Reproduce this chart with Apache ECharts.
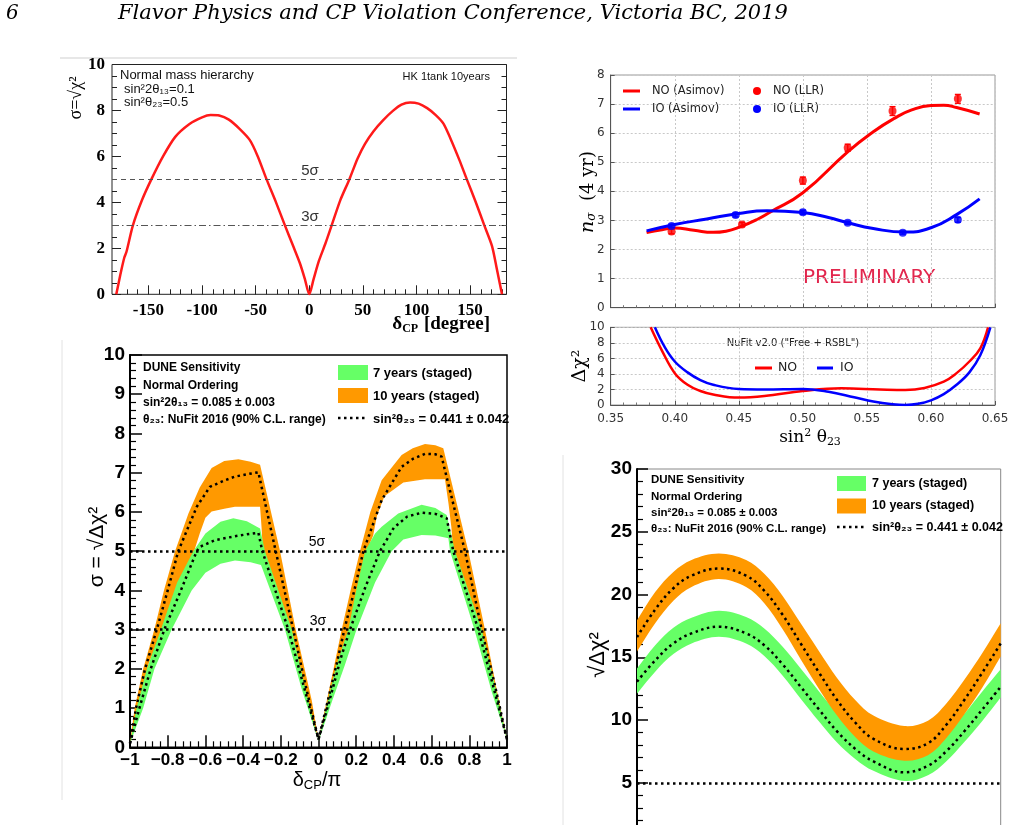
<!DOCTYPE html>
<html>
<head>
<meta charset="utf-8">
<title>CP violation and mass ordering sensitivity</title>
<script src="https://cdn.jsdelivr.net/npm/echarts@6/dist/echarts.min.js"></script>
<style>body{margin:0;background:#fff;}</style>
</head>
<body>
<div id="main" style="width:1014px;height:825px;"></div>
<script>
// ---- HK 1 tank 10 years (top left) ----
var hkDelta = [-180,-176,-172.5,-170.5,-164.5,-156,-147.3,-136.4,-125,-112,-100,-92,-84,-75,-65,-55.4,-48,-39.8,-31,-22.7,-15,-8.7,-4,0,4,9,15,20.9,29,37.4,45,52,60,69,78,86,94,102,110,118,125.2,132,140,147,155,163.3,170.5,175,179.8];
var hkSigma = [0,0.9,1.6,1.85,3.0,4.1,5.0,6.0,6.85,7.4,7.7,7.8,7.78,7.6,7.2,6.71,6.0,5.0,4.0,3.0,2.1,1.35,0.65,0,0.65,1.45,2.2,3.0,4.1,5.0,5.9,6.55,7.1,7.58,7.98,8.25,8.35,8.3,8.1,7.8,7.43,6.75,5.85,5.0,4.05,3.0,2.1,1.1,0];
var hkMajor = [-150,-100,-50,0,50,100,150];

// ---- n_sigma vs sin^2 theta23 (top right) ----
var noAsimov = [[0.378,2.58],[0.39,2.68],[0.40,2.74],[0.415,2.66],[0.43,2.59],[0.44,2.63],[0.45,2.76],[0.465,3.05],[0.475,3.3],[0.50,3.95],[0.535,5.36],[0.555,6.05],[0.571,6.5],[0.585,6.8],[0.60,6.95],[0.61,6.96],[0.62,6.88],[0.638,6.66]];
var ioAsimov = [[0.378,2.64],[0.40,2.86],[0.425,3.05],[0.45,3.24],[0.472,3.33],[0.50,3.27],[0.52,3.1],[0.535,2.92],[0.555,2.72],[0.58,2.6],[0.60,2.75],[0.62,3.2],[0.638,3.74]];
var noLlr = [[0.3975,2.62],[0.4525,2.86],[0.50,4.37],[0.535,5.5],[0.57,6.76],[0.621,7.18]];
var noLlrErr = [0.08,0.07,0.12,0.12,0.15,0.15];
var ioLlr = [[0.3975,2.81],[0.4475,3.19],[0.50,3.28],[0.535,2.92],[0.578,2.58],[0.621,3.02]];
var ioLlrErr = [0.06,0.07,0.07,0.05,0.05,0.08];

// ---- NuFit delta chi^2 (middle right) ----
var nufitNO = [[0.3812,10],[0.39,7.0],[0.40,4.1],[0.41,2.6],[0.42,1.8],[0.43,1.35],[0.45,0.95],[0.47,1.15],[0.50,1.8],[0.53,2.15],[0.56,2.0],[0.58,1.93],[0.595,2.2],[0.61,3.0],[0.62,4.1],[0.63,5.6],[0.6385,7.3],[0.6446,10]];
var nufitIO = [[0.3845,10],[0.392,7.5],[0.40,5.6],[0.41,4.2],[0.42,3.2],[0.43,2.6],[0.45,2.06],[0.47,2.0],[0.50,2.06],[0.52,1.7],[0.54,1.0],[0.555,0.45],[0.57,0.1],[0.58,0.0],[0.59,0.15],[0.60,0.6],[0.61,1.4],[0.62,2.6],[0.63,4.2],[0.6385,6.4],[0.6464,10]];

// ---- DUNE CPV sensitivity (bottom left) ----
var tenOuter = [[-1,0.1],[-0.975,1.0],[-0.93,2.0],[-0.871,3.0],[-0.82,4.0],[-0.761,5.0],[-0.69,5.96],[-0.63,6.62],[-0.567,7.12],[-0.5,7.3],[-0.425,7.34],[-0.36,7.28],[-0.31,7.2],[-0.255,6.06],[-0.204,5.0],[-0.121,3.0],[-0.036,1.2],[0,0.2],
  [0.04,1.1],[0.08,2.0],[0.123,3.0],[0.17,4.0],[0.22,5.0],[0.275,6.0],[0.335,6.81],[0.441,7.45],[0.5,7.62],[0.565,7.73],[0.62,7.7],[0.662,7.62],[0.725,6.38],[0.795,5.0],[0.883,3.0],[0.94,1.6],[1,0.2]];
var tenInner = [[-1,0.1],[-0.95,1.1],[-0.9,2.15],[-0.826,3.0],[-0.74,4.2],[-0.66,5.0],[-0.63,5.45],[-0.6,5.85],[-0.567,6.01],[-0.5,6.08],[-0.443,6.13],[-0.31,6.13],[-0.302,5.6],[-0.295,5.0],[-0.16,3.0],[-0.07,1.4],[0,0.2],
  [0.055,1.2],[0.105,2.1],[0.163,3.0],[0.21,4.0],[0.255,5.0],[0.29,5.4],[0.31,5.9],[0.35,6.4],[0.45,6.75],[0.565,6.83],[0.671,6.83],[0.69,6.2],[0.705,5.6],[0.715,5.0],[0.845,3.0],[0.93,1.5],[1,0.2]];
var sevenOuter = [[-1,0.1],[-0.965,1.0],[-0.91,2.0],[-0.836,3.0],[-0.75,4.2],[-0.664,5.0],[-0.6,5.45],[-0.52,5.75],[-0.452,5.84],[-0.38,5.76],[-0.31,5.58],[-0.284,5.0],[-0.142,3.0],[-0.06,1.3],[0,0.15],
  [0.04,1.0],[0.095,2.1],[0.158,3.0],[0.2,4.0],[0.247,5.0],[0.3,5.45],[0.335,5.62],[0.423,5.96],[0.547,6.18],[0.62,6.1],[0.68,5.92],[0.724,5.0],[0.866,3.0],[0.94,1.5],[1,0.2]];
var sevenInner = [[-1,0.1],[-0.93,1.0],[-0.87,2.0],[-0.779,3.0],[-0.673,4.0],[-0.6,4.45],[-0.52,4.68],[-0.443,4.76],[-0.36,4.72],[-0.305,4.65],[-0.178,3.0],[-0.09,1.5],[0,0.15],
  [0.07,1.15],[0.14,2.1],[0.202,3.0],[0.3,4.2],[0.388,5.0],[0.45,5.3],[0.547,5.41],[0.62,5.4],[0.689,5.33],[0.698,5.0],[0.827,3.0],[0.92,1.4],[1,0.2]];
var tenMid = [[-1,0.1],[-0.968,1.0],[-0.92,2.0],[-0.858,3.0],[-0.80,4.0],[-0.744,5.0],[-0.646,6.13],[-0.576,6.64],[-0.5,6.8],[-0.443,6.9],[-0.38,6.96],[-0.319,7.01],[-0.227,5.0],[-0.134,3.0],[-0.065,1.5],[0,0.2],
  [0.06,1.4],[0.1,2.2],[0.137,3.0],[0.19,4.0],[0.238,5.0],[0.335,6.3],[0.441,7.15],[0.5,7.35],[0.565,7.48],[0.62,7.47],[0.653,7.41],[0.777,5.0],[0.866,3.0],[0.935,1.6],[1,0.2]];
var sevenMid = [[-1,0.1],[-0.95,1.0],[-0.89,2.0],[-0.818,3.0],[-0.73,4.0],[-0.646,5.0],[-0.629,5.11],[-0.55,5.28],[-0.443,5.38],[-0.38,5.43],[-0.319,5.47],[-0.298,5.0],[-0.16,3.0],[-0.075,1.5],[0,0.2],
  [0.07,1.4],[0.12,2.3],[0.167,3.0],[0.25,4.1],[0.326,5.0],[0.4,5.6],[0.47,5.88],[0.547,5.98],[0.62,5.95],[0.68,5.84],[0.715,5.0],[0.848,3.0],[0.93,1.5],[1,0.2]];

// ---- DUNE sensitivity (bottom right) ----
var brDelta = [-1,-0.9,-0.8,-0.7,-0.55,-0.4,-0.3,-0.2,-0.1,0,0.1,0.2,0.3,0.47,0.6,0.7,0.8,0.9,1];
var tenMidBR = [16.6,18.8,20.5,21.5,22.07,21.5,20.3,18.4,16.1,13.8,11.6,9.8,8.5,7.69,8.15,9.6,11.6,13.8,16.1];
var tenUpBR = [17.95,20.2,21.8,22.75,23.26,22.75,21.65,19.9,17.7,15.5,13.35,11.6,10.35,9.52,9.95,11.3,13.2,15.35,17.7];
var tenLoBR = [15.45,17.7,19.5,20.6,21.23,20.6,19.3,17.25,14.85,12.5,10.35,8.65,7.5,6.76,7.2,8.55,10.45,12.6,15.05];
var sevenMidBR = [13.05,14.75,16.1,16.9,17.43,16.9,15.95,14.45,12.65,10.85,9.1,7.7,6.7,5.83,6.35,7.5,9.1,10.85,12.65];
var sevenUpBR = [14.1,15.95,17.35,18.15,18.7,18.2,17.3,15.85,14.1,12.3,10.55,9.1,8.05,7.2,7.65,8.85,10.5,12.3,14.05];
var sevenLoBR = [12.1,13.85,15.25,16.1,16.63,16.1,15.1,13.55,11.7,9.9,8.2,6.9,5.95,5.14,5.6,6.7,8.25,9.95,11.8];

var GREEN = '#66ff66', ORANGE = '#ff9900';
var ROOT = 'Liberation Sans', MPL = 'DejaVu Sans';
var dotted = [2.5, 3.5];

function zip(xs, ys) { return xs.map(function (x, i) { return [x, ys[i]]; }); }
function steps(a, b, s) { var r = []; for (var v = a; v <= b + 1e-9; v += s) r.push(+v.toFixed(4)); return r; }

// filled band between an outer and an inner edge; smooth > 0 rounds the edges
// (end points are doubled so the corners at the frame stay square)
function band(outer, inner, color, ax, z, smooth) {
  return {
    type: 'custom', xAxisIndex: ax, yAxisIndex: ax, z: z, silent: true,
    data: [outer[0]],
    renderItem: function (params, api) {
      var a = outer.map(function (p) { return api.coord(p); });
      var b = inner.slice().reverse().map(function (p) { return api.coord(p); });
      var pts = smooth ? [a[0]].concat(a, [a[a.length - 1], b[0]], b, [b[b.length - 1]]) : a.concat(b);
      return { type: 'polygon', shape: { points: pts, smooth: smooth || 0 }, style: { fill: color } };
    }
  };
}

function errBars(pts, errs, color) {
  return {
    type: 'custom', xAxisIndex: 2, yAxisIndex: 2, z: 4, silent: true,
    data: pts.map(function (p, i) { return [p[0], p[1] - errs[i], p[1] + errs[i]]; }),
    encode: { x: 0, y: [1, 2] },
    renderItem: function (params, api) {
      var lo = api.coord([api.value(0), api.value(1)]);
      var hi = api.coord([api.value(0), api.value(2)]);
      var st = { stroke: color, lineWidth: 1.5 };
      return { type: 'group', children: [
        { type: 'line', shape: { x1: lo[0], y1: lo[1], x2: hi[0], y2: hi[1] }, style: st },
        { type: 'line', shape: { x1: lo[0] - 3, y1: lo[1], x2: lo[0] + 3, y2: lo[1] }, style: st },
        { type: 'line', shape: { x1: hi[0] - 3, y1: hi[1], x2: hi[0] + 3, y2: hi[1] }, style: st }
      ] };
    }
  };
}

function txt(x, y, text, style, rot) {
  var s = Object.assign({ text: text, fill: '#000', fontFamily: ROOT, fontSize: 12, align: 'left', verticalAlign: 'middle' }, style || {});
  var el = { type: 'text', x: x, y: y, style: s, silent: true };
  if (rot) el.rotation = rot;
  return el;
}
function hline(x1, x2, y, stroke, w, dash) {
  return { type: 'line', silent: true, shape: { x1: x1, y1: y, x2: x2, y2: y }, style: { stroke: stroke, lineWidth: w || 1, lineDash: dash || null } };
}
function box(x, y, w, h, fill) {
  return { type: 'rect', silent: true, shape: { x: x, y: y, width: w, height: h }, style: { fill: fill } };
}

var rootLabel = { fontFamily: ROOT, fontWeight: 'bold', fontSize: 19, color: '#000', margin: 5 };
var mplLabel = { fontFamily: MPL, fontSize: 12, color: '#333', margin: 6 };
var mplSplit = { show: true, lineStyle: { color: '#c8c8c8', type: [2, 2], width: 1 } };
var mplLine = { show: true, onZero: false, lineStyle: { color: '#555', width: 1 } };
var hiddenLine = { show: false, onZero: false };
var rootLine = { show: true, onZero: false, lineStyle: { color: '#000', width: 2 } };

var option = {
  animation: false,
  backgroundColor: '#fff',
  grid: [
    { left: 112, top: 64.5, width: 394.5, height: 229.8, show: true, borderColor: '#222', borderWidth: 1, outerBoundsMode: 'none' },
    { left: 610.7, top: 75, width: 384.3, height: 232.7, show: true, borderColor: '#999', borderWidth: 1, outerBoundsMode: 'none' },
    { left: 610.7, top: 327.3, width: 384.3, height: 77.7, show: true, borderColor: '#999', borderWidth: 1, outerBoundsMode: 'none' },
    { left: 130, top: 355, width: 377, height: 392.3, show: true, borderColor: '#000', borderWidth: 1.5, outerBoundsMode: 'none' },
    { left: 637, top: 469, width: 363.7, height: 376.5, show: true, borderColor: '#888', borderWidth: 1, outerBoundsMode: 'none' }
  ],
  xAxis: [
    { gridIndex: 0, type: 'value', min: -184, max: 184, axisLine: hiddenLine, splitLine: { show: false },
      axisTick: { inside: true, length: 9, customValues: hkMajor, lineStyle: { color: '#222' } },
      axisLabel: { customValues: hkMajor, fontFamily: 'Liberation Serif', fontWeight: 'bold', fontSize: 17, color: '#000', margin: 8 } },
    { gridIndex: 0, type: 'value', min: -184, max: 184, position: 'bottom', axisLine: hiddenLine, splitLine: { show: false },
      axisTick: { inside: true, length: 5, customValues: steps(-180, 180, 10), lineStyle: { color: '#222' } },
      axisLabel: { show: false } },
    { gridIndex: 1, type: 'value', min: 0.35, max: 0.65, interval: 0.05, axisLine: mplLine, splitLine: mplSplit,
      axisTick: { inside: true, length: 4, lineStyle: { color: '#555' } },
      minorTick: { show: true, splitNumber: 5, length: 2.5, lineStyle: { color: '#777' } },
      axisLabel: { show: false } },
    { gridIndex: 2, type: 'value', min: 0.35, max: 0.65, interval: 0.05, axisLine: mplLine, splitLine: mplSplit,
      axisTick: { inside: true, length: 4, lineStyle: { color: '#555' } },
      minorTick: { show: true, splitNumber: 5, length: 2.5, lineStyle: { color: '#777' } },
      axisLabel: Object.assign({}, mplLabel, { margin: 8, formatter: function (v) { return v.toFixed(2); } }) },
    { gridIndex: 3, type: 'value', min: -1, max: 1, interval: 0.2, splitLine: { show: false }, axisLine: rootLine,
      axisTick: { inside: true, length: 12, lineStyle: { color: '#000', width: 1.5 } },
      minorTick: { show: true, splitNumber: 5, length: 6, lineStyle: { color: '#000', width: 1.2 } },
      axisLabel: Object.assign({}, rootLabel, { fontSize: 17, margin: 5, formatter: function (v) { return String(Math.round(v * 10) / 10).replace('-', '\u2212'); } }) },
    { gridIndex: 4, type: 'value', min: -1, max: 1, interval: 0.2, splitLine: { show: false }, axisLine: rootLine,
      axisTick: { show: false }, axisLabel: { show: false } }
  ],
  yAxis: [
    { gridIndex: 0, type: 'value', min: 0, max: 10, interval: 2, axisLine: hiddenLine, splitLine: { show: false },
      axisTick: { inside: true, length: 9, lineStyle: { color: '#222' } },
      minorTick: { show: true, splitNumber: 4, length: 5, lineStyle: { color: '#222' } },
      axisLabel: { fontFamily: 'Liberation Serif', fontWeight: 'bold', fontSize: 17, color: '#000', margin: 7 } },
    { gridIndex: 0, type: 'value', min: 0, max: 10, interval: 2, position: 'right', axisLine: hiddenLine, splitLine: { show: false },
      axisTick: { inside: true, length: 9, lineStyle: { color: '#222' } },
      minorTick: { show: true, splitNumber: 4, length: 5, lineStyle: { color: '#222' } },
      axisLabel: { show: false } },
    { gridIndex: 1, type: 'value', min: 0, max: 8, interval: 1, axisLine: mplLine, splitLine: mplSplit,
      axisTick: { inside: true, length: 4, lineStyle: { color: '#555' } }, axisLabel: mplLabel },
    { gridIndex: 2, type: 'value', min: 0, max: 10, interval: 2, axisLine: mplLine, splitLine: mplSplit,
      axisTick: { inside: true, length: 4, lineStyle: { color: '#555' } }, axisLabel: mplLabel },
    { gridIndex: 3, type: 'value', min: 0, max: 10, interval: 1, splitLine: { show: false }, axisLine: rootLine,
      axisTick: { inside: true, length: 12, lineStyle: { color: '#000', width: 1.5 } },
      minorTick: { show: true, splitNumber: 5, length: 6, lineStyle: { color: '#000', width: 1.2 } },
      axisLabel: rootLabel },
    { gridIndex: 4, type: 'value', min: 0, max: 30, interval: 5, splitLine: { show: false }, axisLine: rootLine,
      axisTick: { inside: true, length: 11, lineStyle: { color: '#000', width: 1.5 } },
      minorTick: { show: true, splitNumber: 5, length: 6, lineStyle: { color: '#000', width: 1.2 } },
      axisLabel: rootLabel }
  ],
  series: [
    // top left
    { type: 'line', xAxisIndex: 0, yAxisIndex: 0, data: zip(hkDelta, hkSigma), symbol: 'none', smooth: 0.25,
      lineStyle: { color: '#ff1a1a', width: 2.5 }, z: 4,
      markLine: { silent: true, symbol: ['none', 'none'], label: { show: false },
        data: [ { yAxis: 5, lineStyle: { color: '#555', width: 1, type: [5, 4] } },
                { yAxis: 3, lineStyle: { color: '#555', width: 1, type: [7, 3, 1.5, 3] } } ] } },
    // top right
    { type: 'line', xAxisIndex: 2, yAxisIndex: 2, data: noAsimov, symbol: 'none', smooth: 0.5, lineStyle: { color: '#ff0000', width: 3 }, z: 3 },
    { type: 'line', xAxisIndex: 2, yAxisIndex: 2, data: ioAsimov, symbol: 'none', smooth: 0.5, lineStyle: { color: '#0000ff', width: 3 }, z: 3 },
    errBars(noLlr, noLlrErr, '#ff0000'),
    errBars(ioLlr, ioLlrErr, '#0000ff'),
    { type: 'scatter', xAxisIndex: 2, yAxisIndex: 2, data: noLlr, symbolSize: 8, itemStyle: { color: '#ff0000' }, z: 5 },
    { type: 'scatter', xAxisIndex: 2, yAxisIndex: 2, data: ioLlr, symbolSize: 8, itemStyle: { color: '#0000ff' }, z: 5 },
    // middle right
    { type: 'line', xAxisIndex: 3, yAxisIndex: 3, data: nufitNO, symbol: 'none', smooth: 0.4, lineStyle: { color: '#ff0000', width: 2.5 } },
    { type: 'line', xAxisIndex: 3, yAxisIndex: 3, data: nufitIO, symbol: 'none', smooth: 0.4, lineStyle: { color: '#0000ff', width: 2.5 } },
    // bottom left
    band(tenOuter, tenInner, ORANGE, 4, 2),
    band(sevenOuter, sevenInner, GREEN, 4, 3),
    { type: 'line', xAxisIndex: 4, yAxisIndex: 4, data: tenMid, symbol: 'none', lineStyle: { color: '#000', width: 2.5, type: dotted }, z: 5,
      markLine: { silent: true, symbol: ['none', 'none'], label: { show: false },
        lineStyle: { color: '#000', width: 2.5, type: dotted }, data: [{ yAxis: 5 }, { yAxis: 3 }] } },
    { type: 'line', xAxisIndex: 4, yAxisIndex: 4, data: sevenMid, symbol: 'none', lineStyle: { color: '#000', width: 2.5, type: dotted }, z: 5 },
    // bottom right
    band(zip(brDelta, sevenUpBR), zip(brDelta, sevenLoBR), GREEN, 5, 2, 0.35),
    band(zip(brDelta, tenUpBR), zip(brDelta, tenLoBR), ORANGE, 5, 3, 0.35),
    { type: 'line', xAxisIndex: 5, yAxisIndex: 5, data: zip(brDelta, tenMidBR), symbol: 'none', smooth: 0.4, lineStyle: { color: '#000', width: 2.5, type: dotted }, z: 5,
      markLine: { silent: true, symbol: ['none', 'none'], label: { show: false },
        lineStyle: { color: '#000', width: 2.5, type: dotted }, data: [{ yAxis: 5 }] } },
    { type: 'line', xAxisIndex: 5, yAxisIndex: 5, data: zip(brDelta, sevenMidBR), symbol: 'none', smooth: 0.4, lineStyle: { color: '#000', width: 2.5, type: dotted }, z: 5 }
  ],
  graphic: [
    // page header and figure edges
    txt(6, 14, '6', { fontFamily: 'DejaVu Serif', fontStyle: 'italic', fontSize: 20 }),
    txt(118, 14, 'Flavor Physics and CP Violation Conference, Victoria BC, 2019', { fontFamily: 'DejaVu Serif', fontStyle: 'italic', fontSize: 21 }),
    hline(60, 517, 58, '#cfcfcf', 1),
    { type: 'line', silent: true, shape: { x1: 62, y1: 340, x2: 62, y2: 800 }, style: { stroke: '#e2e2e2', lineWidth: 1 } },
    { type: 'line', silent: true, shape: { x1: 563, y1: 455, x2: 563, y2: 825 }, style: { stroke: '#e2e2e2', lineWidth: 1 } },

    // top left
    txt(120, 75, 'Normal mass hierarchy', { fontSize: 13, fill: '#111' }),
    txt(124, 89, 'sin\u00b22\u03b8\u2081\u2083=0.1', { fontSize: 13, fill: '#111' }),
    txt(124, 102, 'sin\u00b2\u03b8\u2082\u2083=0.5', { fontSize: 13, fill: '#111' }),
    txt(490, 77, 'HK 1tank 10years', { fontSize: 11, fill: '#111', align: 'right' }),
    txt(310, 171, '5\u03c3', { fontSize: 15, fill: '#333', align: 'center' }),
    txt(310, 217, '3\u03c3', { fontSize: 15, fill: '#333', align: 'center' }),
    txt(490, 324, '{m|\u03b4}{s|CP}{m| [degree]}', { align: 'right',
      rich: { m: { fontFamily: 'Liberation Serif', fontWeight: 'bold', fontSize: 19 },
              s: { fontFamily: 'Liberation Serif', fontWeight: 'bold', fontSize: 12, padding: [9, 1, 0, 0] } } }),
    txt(76, 98, '\u03c3=\u221a\u03c7\u00b2', { fontFamily: 'Liberation Serif', fontSize: 18, align: 'center' }, Math.PI / 2),

    // top right legend and notes
    hline(623, 640, 91, '#ff0000', 3),
    txt(652, 91, 'NO (Asimov)', { fontFamily: MPL, fontSize: 11.5, fill: '#222' }),
    { type: 'circle', silent: true, shape: { cx: 757, cy: 91, r: 4 }, style: { fill: '#ff0000' } },
    txt(773, 91, 'NO (LLR)', { fontFamily: MPL, fontSize: 11.5, fill: '#222' }),
    hline(623, 640, 109, '#0000ff', 3),
    txt(652, 109, 'IO (Asimov)', { fontFamily: MPL, fontSize: 11.5, fill: '#222' }),
    { type: 'circle', silent: true, shape: { cx: 757, cy: 109, r: 4 }, style: { fill: '#0000ff' } },
    txt(773, 109, 'IO (LLR)', { fontFamily: MPL, fontSize: 11.5, fill: '#222' }),
    txt(803, 278, 'PRELIMINARY', { fontFamily: MPL, fontSize: 20, fill: '#e2264d' }),
    txt(588, 192, '{i|n}{s|\u03c3}{m|  (4 yr)}', { align: 'center',
      rich: { i: { fontFamily: 'DejaVu Serif', fontStyle: 'italic', fontSize: 19 },
              s: { fontFamily: 'DejaVu Serif', fontStyle: 'italic', fontSize: 12, padding: [8, 0, 0, 0] },
              m: { fontFamily: 'DejaVu Serif', fontSize: 18 } } }, Math.PI / 2),

    // middle right legend and axis titles
    txt(793, 343, 'NuFit v2.0 ("Free + RSBL")', { fontFamily: MPL, fontSize: 10, fill: '#222', align: 'center' }),
    hline(755, 772, 368, '#ff0000', 3),
    txt(778, 368, 'NO', { fontFamily: MPL, fontSize: 12.5, fill: '#222' }),
    hline(817, 833, 368, '#0000ff', 3),
    txt(840, 368, 'IO', { fontFamily: MPL, fontSize: 12.5, fill: '#222' }),
    txt(580, 366, '\u0394\u03c7\u00b2', { fontFamily: 'DejaVu Serif', fontSize: 19, align: 'center' }, Math.PI / 2),
    txt(810, 438, '{m|sin}{p|2}{m| \u03b8}{s|23}', { align: 'center',
      rich: { m: { fontFamily: 'DejaVu Serif', fontSize: 17 },
              p: { fontFamily: 'DejaVu Serif', fontSize: 11, padding: [0, 0, 10, 0] },
              s: { fontFamily: 'DejaVu Serif', fontSize: 11, padding: [9, 0, 0, 0] } } }),

    // bottom left texts and legend
    txt(143, 368, 'DUNE Sensitivity', { fontWeight: 'bold', fontSize: 12 }),
    txt(143, 385.5, 'Normal Ordering', { fontWeight: 'bold', fontSize: 12 }),
    txt(143, 403, 'sin\u00b22\u03b8\u2081\u2083 = 0.085 \u00b1 0.003', { fontWeight: 'bold', fontSize: 12 }),
    txt(143, 420, '\u03b8\u2082\u2083: NuFit 2016 (90% C.L. range)', { fontWeight: 'bold', fontSize: 12 }),
    box(338, 365, 30, 15, GREEN),
    box(338, 388, 30, 15, ORANGE),
    hline(338, 368, 418, '#000', 2.5, dotted),
    txt(373, 373, '7 years (staged)', { fontWeight: 'bold', fontSize: 13 }),
    txt(373, 396, '10 years (staged)', { fontWeight: 'bold', fontSize: 13 }),
    txt(373, 419, 'sin\u00b2\u03b8\u2082\u2083 = 0.441 \u00b1 0.042', { fontWeight: 'bold', fontSize: 13 }),
    txt(317, 542, '5\u03c3', { fontSize: 14, align: 'center' }),
    txt(318, 621, '3\u03c3', { fontSize: 14, align: 'center' }),
    txt(317, 780, '{m|\u03b4}{s|CP}{m|/\u03c0}', { align: 'center',
      rich: { m: { fontFamily: ROOT, fontSize: 20 }, s: { fontFamily: ROOT, fontSize: 13, padding: [10, 0, 0, 0] } } }),
    txt(97, 547, '\u03c3 = \u221a\u0394\u03c7\u00b2', { fontSize: 21, align: 'center' }, Math.PI / 2),

    // bottom right texts and legend
    txt(651, 480, 'DUNE Sensitivity', { fontWeight: 'bold', fontSize: 11.5 }),
    txt(651, 497, 'Normal Ordering', { fontWeight: 'bold', fontSize: 11.5 }),
    txt(651, 513, 'sin\u00b22\u03b8\u2081\u2083 = 0.085 \u00b1 0.003', { fontWeight: 'bold', fontSize: 11.5 }),
    txt(651, 528.5, '\u03b8\u2082\u2083: NuFit 2016 (90% C.L. range)', { fontWeight: 'bold', fontSize: 11.5 }),
    box(837, 476, 29, 15, GREEN),
    box(837, 498.5, 29, 15, ORANGE),
    hline(837, 866, 527, '#000', 2.5, dotted),
    txt(872, 484, '7 years (staged)', { fontWeight: 'bold', fontSize: 12.5 }),
    txt(872, 506, '10 years (staged)', { fontWeight: 'bold', fontSize: 12.5 }),
    txt(872, 527.5, 'sin\u00b2\u03b8\u2082\u2083 = 0.441 \u00b1 0.042', { fontWeight: 'bold', fontSize: 12.5 }),
    txt(598, 655, '\u221a\u0394\u03c7\u00b2', { fontSize: 22, align: 'center' }, Math.PI / 2)
  ]
};

var chart = echarts.init(document.getElementById('main'));
chart.setOption(option);
</script>
</body>
</html>
